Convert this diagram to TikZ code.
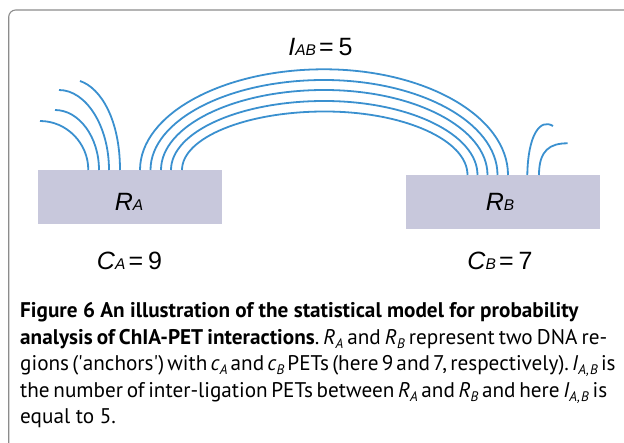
\documentclass[tikz,border=0pt]{standalone}
\usepackage{fontspec}
\setmainfont{PT Sans}
\newfontfamily\labelfont{Liberation Sans}
\definecolor{petblue}{RGB}{58,144,207}
\definecolor{regfill}{RGB}{200,200,220}
\definecolor{framegray}{RGB}{140,140,140}
\newcommand{\dlab}[2]{\textit{#1}{\fontsize{15.5}{15.5}\selectfont\textit{#2}}}
\newcommand{\csub}[2]{\textit{#1}\raisebox{-0.35ex}{\fontsize{13.8}{13.8}\selectfont\textit{#2}}}
\newcommand{\jline}[1]{\hbox to 587pt{\spaceskip=0.25em plus 0.6em minus 0.1em\relax #1}}
\tikzset{
  pet/.style={petblue, line width=1.8pt},
  regbox/.style={fill=regfill, draw=none, inner sep=0pt},
  dtext/.style={font=\labelfont\fontsize{25}{29}\selectfont, inner sep=0pt, anchor=base},
  captext/.style={font=\fontsize{21.2}{26}\selectfont\frenchspacing, inner sep=0pt, anchor=base west}
}
\begin{document}
\begin{tikzpicture}[x=1pt,y=-1pt]
\useasboundingbox (0,0) rectangle (624,443);
% frame
\draw[framegray, line width=1.1pt, rounded corners=7pt] (8.7,460) -- (8.7,10) -- (640,10);
% regions
\node[regbox, minimum width=184pt, minimum height=54pt] (RA) at (130,197) {};
\node[regbox, minimum width=194pt, minimum height=54pt] (RB) at (503,202) {};
\node[dtext] (lRA) at (129,210.7) {\dlab{R}{A}};
\node[dtext] (lRB) at (500,210.7) {\dlab{R}{B}};
\node[dtext] (lCA) at (129.5,270) {\dlab{C}{A}\kern3pt=\kern5pt9};
\node[dtext] (lCB) at (500,270) {\dlab{C}{B}\kern3pt=\kern5pt7};
\node[dtext] (lIAB) at (320.5,55.7) {\dlab{I}{AB}\kern3pt=\kern5pt5};
% inter-ligation PETs
\foreach \xl/\xr/\yt in {140/508/69.3, 150.5/497.5/80, 161/487.5/90, 171/477.5/101, 182/467.5/111.5}{
  \draw[pet] (\xl,170) .. controls (\xl,{170-0.552*(170-\yt)}) and ({(\xl+\xr)/2-0.552*(\xr-\xl)/2},\yt) .. ({(\xl+\xr)/2},\yt)
     .. controls ({(\xl+\xr)/2+0.552*(\xr-\xl)/2},\yt) and (\xr,{175-0.552*(175-\yt)}) .. (\xr,175);
}
% self-ligation PETs at A
\draw[pet] (40,121) .. controls (66.5,121) and (88.3,143) .. (88.3,170);
\draw[pet] (55,110) .. controls (79,110) and (99,137) .. (99,170);
\draw[pet] (59,90) .. controls (86,90) and (109,126) .. (109,170);
\draw[pet] (80,81) .. controls (101,88) and (120,120) .. (120,170);
% self-ligation PETs at B
\draw[pet] (527.3,175) .. controls (528,135) and (540,118) .. (553,126);
\draw[pet] (539,175) .. controls (539,150) and (550,143.3) .. (567.7,143.3);
% caption
\node[captext] (cap1) at (20,318) {\textbf{Figure 6 An illustration of the statistical model for probability}};
\node[captext] (cap2) at (20,344.5) {\jline{\textbf{analysis of ChIA-PET interactions}. \csub{R}{A} and \csub{R}{B} represent two DNA re-}};
\node[captext] (cap3) at (20,371) {\jline{gions (\textquotesingle anchors\textquotesingle) with \csub{c}{A} and \csub{c}{B} PETs (here 9 and 7, respectively). \csub{I}{A,\kern1pt B} is}};
\node[captext] (cap4) at (20,397.5) {\jline{the number of inter-ligation PETs between \csub{R}{A} and \csub{R}{B} and here \csub{I}{A,\kern1pt B} is}};
\node[captext] (cap5) at (20,424) {equal to 5.};
\end{tikzpicture}
\end{document}
